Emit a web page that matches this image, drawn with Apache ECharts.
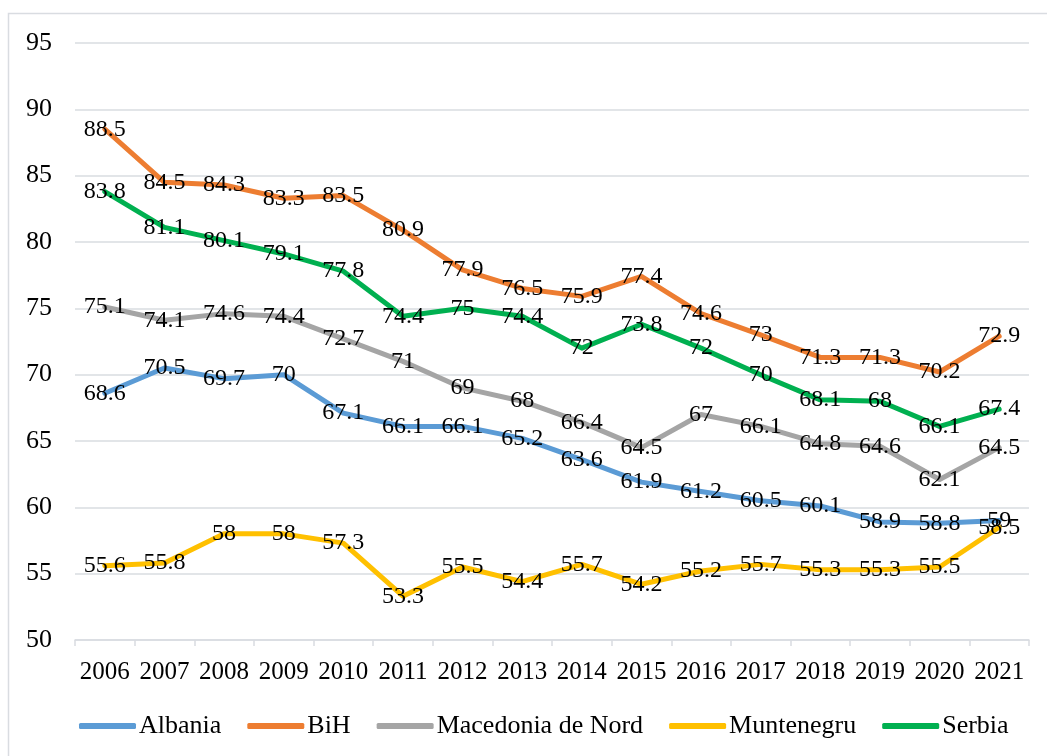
<!DOCTYPE html>
<html>
<head>
<meta charset="utf-8">
<style>
  html, body { margin: 0; padding: 0; background: #fff; }
  #chart { width: 1047px; height: 756px; }
</style>
<script src="https://cdn.jsdelivr.net/npm/echarts@6/dist/echarts.min.js"></script>
</head>
<body>
<div id="chart"></div>
<script>
// Years on the horizontal axis
const years = ['2006','2007','2008','2009','2010','2011','2012','2013','2014','2015','2016','2017','2018','2019','2020','2021'];

// One value per year for each country
const albania    = [68.6, 70.5, 69.7, 70, 67.1, 66.1, 66.1, 65.2, 63.6, 61.9, 61.2, 60.5, 60.1, 58.9, 58.8, 59];
const bih        = [88.5, 84.5, 84.3, 83.3, 83.5, 80.9, 77.9, 76.5, 75.9, 77.4, 74.6, 73, 71.3, 71.3, 70.2, 72.9];
const macedonia  = [75.1, 74.1, 74.6, 74.4, 72.7, 71, 69, 68, 66.4, 64.5, 67, 66.1, 64.8, 64.6, 62.1, 64.5];
const muntenegru = [55.6, 55.8, 58, 58, 57.3, 53.3, 55.5, 54.4, 55.7, 54.2, 55.2, 55.7, 55.3, 55.3, 55.5, 58.5];
const serbia     = [83.8, 81.1, 80.1, 79.1, 77.8, 74.4, 75, 74.4, 72, 73.8, 72, 70, 68.1, 68, 66.1, 67.4];

const seriesNames = ['Albania', 'BiH', 'Macedonia de Nord', 'Muntenegru', 'Serbia'];
const seriesData = [albania, bih, macedonia, muntenegru, serbia];
const seriesColors = ['#5B9BD5', '#ED7D31', '#A5A5A5', '#FFC000', '#00B050'];

const FONT = '"Liberation Serif", "Times New Roman", serif';
const GRID_COLOR = '#d9dce1';

const chart = echarts.init(document.getElementById('chart'), null, { renderer: 'canvas' });

const series = seriesNames.map((name, i) => ({
  name: name,
  type: 'line',
  data: seriesData[i],
  symbol: 'circle',
  symbolSize: 0.1,
  showSymbol: true,
  itemStyle: { color: seriesColors[i] },
  lineStyle: { width: 5, color: seriesColors[i], cap: 'round', join: 'round' },
  label: {
    show: true,
    position: 'inside',
    color: '#000',
    fontFamily: FONT,
    fontSize: 24
  },
  emphasis: { disabled: true },
  animation: false
}));

chart.setOption({
  backgroundColor: '#fff',
  animation: false,
  graphic: [{
    type: 'rect',
    shape: { x: 8.5, y: 13.5, width: 1100, height: 800 },
    style: { fill: 'none', stroke: GRID_COLOR, lineWidth: 1.5 },
    silent: true,
    z: -1
  }],
  grid: { left: 75, right: 18, top: 43, bottom: 116 },
  legend: {
    data: seriesNames,
    left: 74,
    top: 708,
    itemWidth: 57,
    itemHeight: 6,
    itemGap: 26,
    icon: 'roundRect',
    textStyle: { fontFamily: FONT, fontSize: 26, color: '#000', padding: [0, 0, 0, -2] }
  },
  xAxis: {
    type: 'category',
    data: years,
    boundaryGap: true,
    axisLine: { lineStyle: { color: GRID_COLOR, width: 1.5 } },
    axisTick: { show: true, alignWithLabel: false, length: 6, lineStyle: { color: GRID_COLOR, width: 1.5 } },
    axisLabel: { color: '#000', fontFamily: FONT, fontSize: 25, margin: 20, interval: 0 },
    splitLine: { show: false }
  },
  yAxis: {
    type: 'value',
    min: 50,
    max: 95,
    interval: 5,
    axisLine: { show: false },
    axisTick: { show: false },
    axisLabel: { color: '#000', fontFamily: FONT, fontSize: 26, margin: 23 },
    splitLine: { lineStyle: { color: GRID_COLOR, width: 1.5 } }
  },
  series: series
});
</script>
</body>
</html>
